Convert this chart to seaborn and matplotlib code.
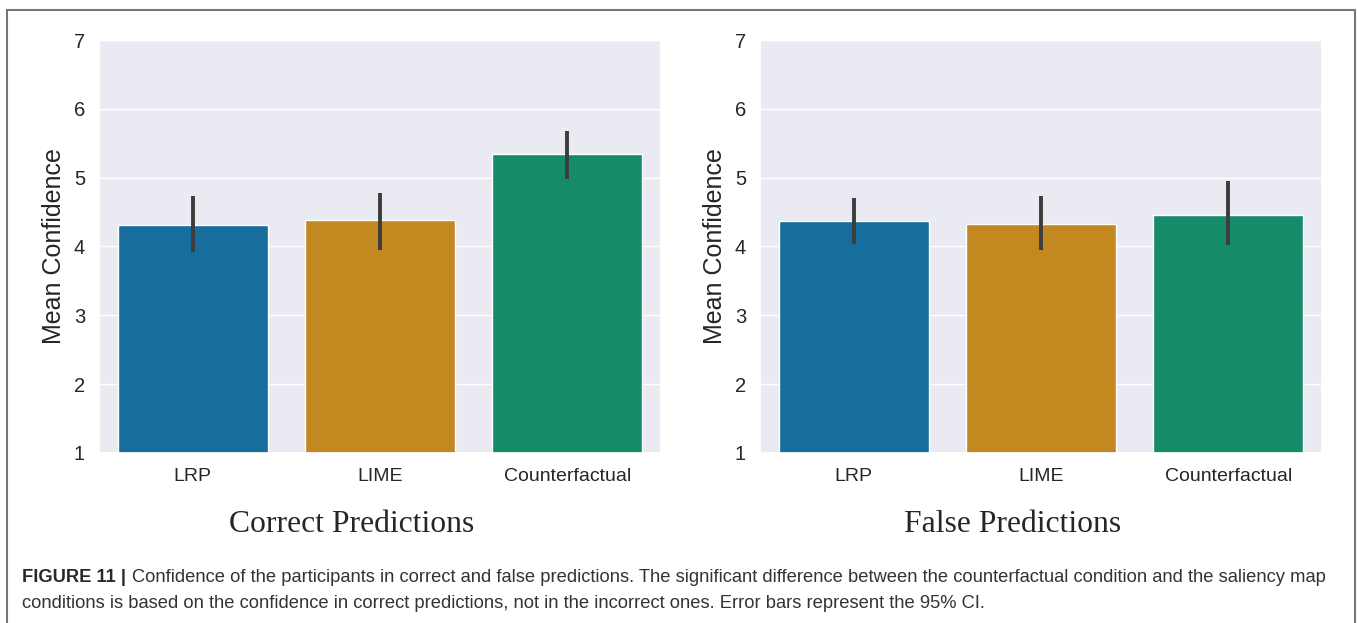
import seaborn as sns
import matplotlib.pyplot as plt
from matplotlib.patches import Rectangle

# data
methods = ["LRP", "LIME", "Counterfactual"]
correct_mean = [4.31, 4.38, 5.34]
correct_lo = [3.92, 3.95, 4.98]
correct_hi = [4.73, 4.77, 5.68]
false_mean = [4.37, 4.33, 4.46]
false_lo = [4.03, 3.95, 4.02]
false_hi = [4.71, 4.73, 4.95]
titles = ["Correct Predictions", "False Predictions"]
caption_bold = "FIGURE 11 |"
caption_line1 = ("Confidence of the participants in correct and false predictions. The significant "
                 "difference between the counterfactual condition and the saliency map")
caption_line2 = ("conditions is based on the confidence in correct predictions, not in the incorrect "
                 "ones. Error bars represent the 95% CI.")

sns.set_theme(style="darkgrid")
plt.rcParams['font.family'] = ['Liberation Sans', 'DejaVu Sans']

W, H = 1357, 623
fig = plt.figure(figsize=(W / 100, H / 100), dpi=100)

panels = [
    (correct_mean, correct_lo, correct_hi, 99, 352),
    (false_mean, false_lo, false_hi, 760, 1013),
]

for i, (means, lo, hi, left_px, title_x) in enumerate(panels):
    ax = fig.add_axes([left_px / W, (H - 453) / H, 562 / W, 413 / H])
    sns.barplot(x=methods, y=means, hue=methods, palette="colorblind",
                legend=False, errorbar=None, ax=ax)
    ax.vlines(range(len(methods)), lo, hi, color="#3d3d3d", lw=2.8, zorder=5)
    ax.set_ylim(1, 7)
    ax.set_xlim(-0.5, 2.5)
    ax.set_ylabel("Mean Confidence", fontsize=18, color="#262626", labelpad=6)
    ax.tick_params(axis="x", labelsize=14, pad=4.5, colors="#262626")
    ax.tick_params(axis="y", labelsize=14.5, pad=4, colors="#262626")
    fig.text(title_x / W, 1 - 524 / H, titles[i], ha="center", va="center",
             fontsize=22.8, family=["Liberation Serif", "DejaVu Serif"])

# caption
fig.canvas.draw()
r = fig.canvas.get_renderer()
t = fig.text(22 / W, 1 - 578 / H, caption_bold, fontsize=13.2, fontweight="bold",
             va="center", color="#2a2a2a")
bb = t.get_window_extent(renderer=r)
fig.text((bb.x1 + 6) / W, 1 - 578 / H, caption_line1, fontsize=13.2, va="center",
         color="#333333")
fig.text(22 / W, 1 - 604 / H, caption_line2, fontsize=13.2, va="center", color="#333333")

# outer frame
fig.patches.append(Rectangle((7 / W, -0.01), 1348 / W, 1 - 10 / H + 0.01,
                             transform=fig.transFigure, fill=False,
                             edgecolor="#777777", lw=1.5))

fig.savefig("out.png", dpi=100)
